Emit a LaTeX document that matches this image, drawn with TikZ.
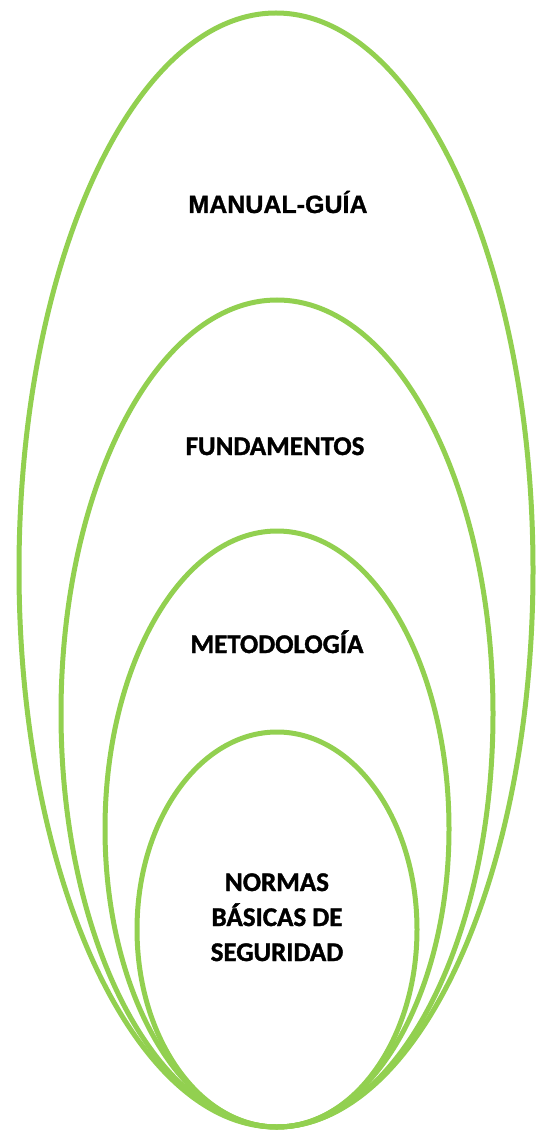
\documentclass[tikz,border=0pt]{standalone}
\usepackage{fontspec}
\setmainfont{Carlito}[BoldFeatures={FakeBold=1.3}]
\newfontfamily\arialfont{Liberation Sans}[BoldFeatures={FakeBold=1}]
\definecolor{ringgreen}{HTML}{92D050}
\begin{document}
\begin{tikzpicture}[x=1pt,y=-1pt,
  ring/.style={draw=ringgreen,line width=5pt},
  lbl/.style={font=\bfseries\fontsize{27}{35}\selectfont,anchor=base,inner sep=0pt}]
\useasboundingbox (0,0) rectangle (536,1131);
\draw[ring] (276,570) ellipse (257 and 557);
\draw[ring] (277,713.5) ellipse (216 and 413.5);
\draw[ring] (277,829) ellipse (172 and 298);
\draw[ring] (277,929.5) ellipse (140 and 197.5);
\node[lbl,font=\arialfont\bfseries\fontsize{25}{30}\selectfont] (manual) at (278,213) {MANUAL-GUÍA};
\node[lbl] (fund) at (275,455) {FUNDAMENTOS};
\node[lbl] (metod) at (277,653) {METODOLOGÍA};
\node[lbl] (n1) at (277,891) {NORMAS};
\node[lbl] (n2) at (277,926) {BÁSICAS DE};
\node[lbl] (n3) at (277,961) {SEGURIDAD};
\end{tikzpicture}
\end{document}
